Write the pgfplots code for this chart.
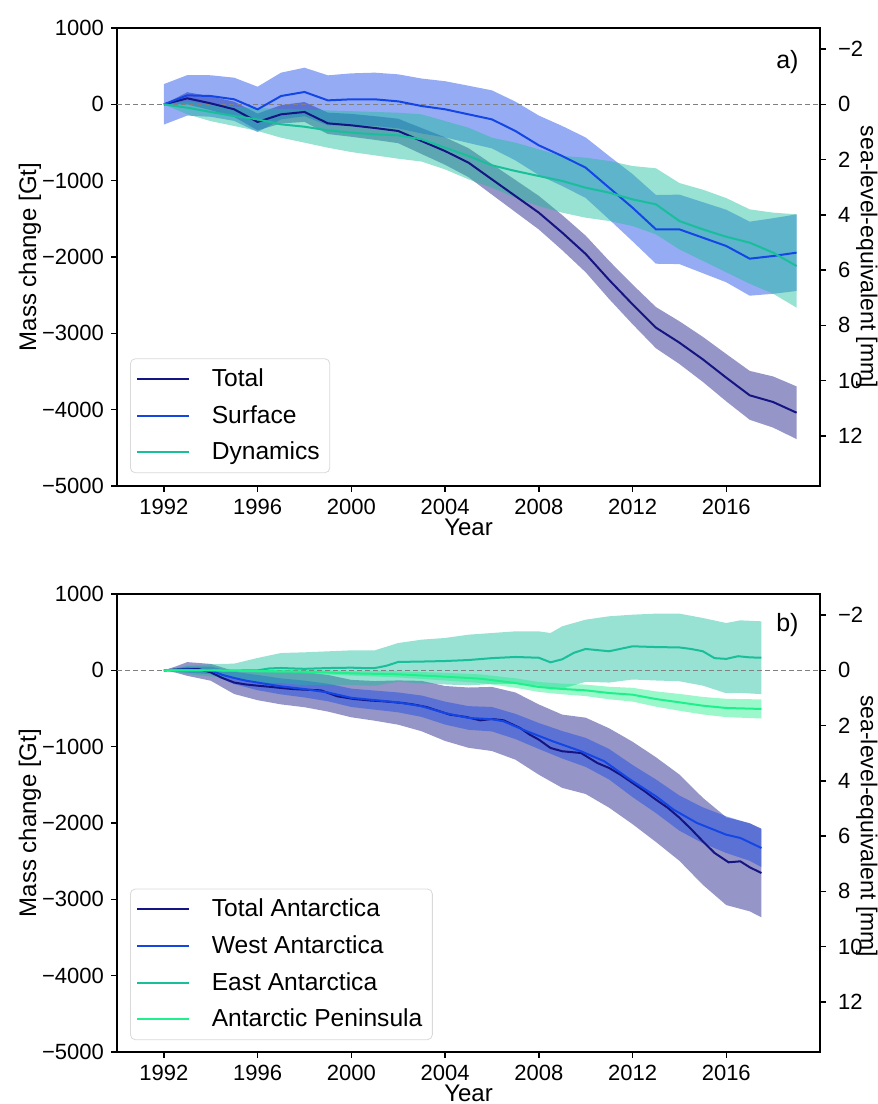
\documentclass[border=0pt]{standalone}
\usepackage{fontspec}
\setmainfont{Liberation Sans}
\usepackage{pgfplots}
\usepackage{pgfplotstable}
\pgfplotsset{compat=1.18}
\usepgfplotslibrary{fillbetween}

\definecolor{cTot}{RGB}{20,20,130}
\definecolor{cSur}{RGB}{20,70,230}
\definecolor{cDyn}{RGB}{25,190,155}
\definecolor{cPen}{RGB}{30,240,140}

% ---------- panel a) ----------
\pgfplotstableread{
yr tot tup tlo sur sup slo dyn dup dlo
1992 0 0 0 0 265 -265 0 0 0
1993 79 159 -1 118 383 -147 -44 40 -131
1994 13 103 -77 109 381 -163 -100 0 -220
1995 -65 35 -165 66 349 -217 -153 -30 -284
1996 -231 -121 -341 -66 231 -363 -197 -50 -349
1997 -131 -11 -251 109 415 -197 -262 -60 -437
1998 -100 30 -230 162 480 -156 -293 -70 -502
1999 -249 -109 -389 52 380 -276 -341 -80 -568
2000 -275 -125 -425 66 406 -274 -371 -90 -625
2001 -310 -155 -465 66 415 -283 -393 -100 -668
2002 -349 -189 -509 39 393 -315 -406 -110 -712
2003 -481 -311 -651 -22 338 -382 -458 -131 -750
2004 -612 -432 -792 -65 303 -433 -567 -219 -852
2005 -764 -574 -954 -131 244 -506 -677 -306 -983
2006 -983 -783 -1183 -197 183 -577 -799 -437 -1092
2007 -1201 -991 -1411 -349 36 -734 -873 -502 -1223
2008 -1419 -1199 -1639 -537 -147 -927 -939 -590 -1332
2009 -1681 -1451 -1911 -677 -284 -1070 -1004 -677 -1419
2010 -1960 -1720 -2200 -830 -434 -1226 -1092 -699 -1485
2011 -2300 -2050 -2550 -1092 -677 -1507 -1157 -742 -1528
2012 -2620 -2360 -2880 -1354 -914 -1794 -1245 -808 -1594
2013 -2926 -2656 -3196 -1638 -1188 -2088 -1310 -838 -1703
2014 -3122 -2842 -3402 -1638 -1183 -2093 -1529 -1031 -1900
2015 -3341 -3046 -3636 -1747 -1282 -2212 -1638 -1118 -2050
2016 -3581 -3271 -3891 -1856 -1381 -2331 -1735 -1228 -2200
2017 -3812 -3492 -4132 -2022 -1537 -2507 -1812 -1376 -2350
2018 -3900 -3565 -4235 -1987 -1492 -2482 -1943 -1419 -2480
2019 -4040 -3695 -4385 -1943 -1441 -2445 -2118 -1441 -2664
}\topdata

% ---------- panel b) ----------
\pgfplotstableread{
yr v
1992.0 0
1992.5 10
1993.0 18
1993.5 15
1994.0 -26
1994.5 -100
1995.0 -160
1995.5 -185
1996.0 -201
1996.5 -215
1997.0 -231
1997.5 -245
1998.0 -253
1998.7 -262
1999.4 -340
2000.1 -375
2000.8 -395
2001.4 -406
2002.2 -428
2002.7 -450
2003.2 -480
2003.7 -530
2004.2 -580
2004.9 -611
2005.5 -655
2006.0 -637
2006.5 -655
2007.2 -755
2007.6 -840
2008.0 -907
2008.5 -1017
2009.0 -1060
2009.8 -1083
2010.5 -1214
2011.0 -1279
2011.5 -1370
2012.0 -1475
2012.5 -1580
2013.0 -1694
2013.5 -1800
2014.0 -1930
2014.5 -2080
2015.0 -2240
2015.5 -2392
2016.1 -2515
2016.6 -2502
2017.0 -2580
2017.5 -2655
}\taline
\pgfplotstableread{
yr up lo
1992 0 0
1992.5 50 -30
1993 108 -72
1994 84 -136
1995 -10 -310
1996 -11 -391
1997 -16 -446
1998 -23 -483
1999 -60 -540
2000 -125 -615
2001 -140 -660
2002 -132 -712
2003 -138 -798
2004 -205 -925
2005 -225 -1015
2006 -217 -1057
2007 -290 -1170
2008 -447 -1367
2009 -580 -1540
2010 -620 -1620
2011 -759 -1799
2012 -935 -2015
2013 -1139 -2249
2014 -1365 -2495
2015 -1670 -2810
2016 -1925 -3075
2017 -2003 -3157
2017.5 -2075 -3235
}\taband
\pgfplotstableread{
yr v
1992 0
1992.5 5
1993 10
1993.5 5
1994 0
1994.5 -60
1995 -100
1995.5 -135
1996 -160
1997 -210
1998 -245
1999 -290
2000 -360
2001 -390
2002 -420
2003 -470
2004 -560
2005 -624
2006 -640
2006.5 -668
2007.5 -799
2008.6 -930
2009.8 -1060
2010.8 -1192
2011.9 -1432
2013 -1650
2013.75 -1825
2014.75 -2000
2016 -2153
2016.6 -2196
2017.5 -2327
}\waline
\pgfplotstableread{
yr up lo
1992 0 0
1993 50 -30
1994 50 -50
1995 -20 -180
1996 -60 -260
1997 -105 -315
1998 -135 -355
1999 -175 -405
2000 -240 -480
2001 -265 -515
2002 -290 -550
2003 -330 -610
2004 -410 -710
2005 -469 -779
2006 -480 -800
2007 -570 -900
2008 -690 -1030
2009 -795 -1155
2010 -885 -1265
2011 -1030 -1430
2012 -1240 -1660
2013 -1430 -1870
2014 -1640 -2100
2015 -1795 -2265
2016 -1913 -2393
2017 -2005 -2495
2017.5 -2077 -2577
}\waband
\pgfplotstableread{
yr v
1992 0
1992.5 5
1993 5
1994 0
1995 -3
1996 0
1996.5 25
1997 31
1997.5 25
1998 20
1999 30
2000 35
2000.5 30
2001 30
2001.5 60
2002 110
2003 115
2004 122
2005 135
2006 160
2007 175
2008 165
2008.5 105
2009 145
2009.5 230
2010 280
2011 250
2012 315
2013 305
2014 300
2014.5 280
2015 250
2015.5 160
2016 150
2016.5 185
2017 170
2017.5 165
}\ealine
\pgfplotstableread{
yr up lo
1992 0 0
1993 60 -50
1994 80 -80
1995 88 -98
1996 162 -162
1997 227 -165
1998 236 -196
1999 249 -189
2000 262 -192
2001 262 -202
2002 358 -150
2003 402 -172
2004 424 -185
2005 467 -197
2006 489 -180
2007 511 -175
2008 511 -200
2008.5 489 -250
2009 577 -240
2010 664 -150
2011 708 -160
2012 729 -120
2013 743 -133
2014 743 -143
2015 686 -200
2016 620 -300
2016.6 655 -295
2017.5 642 -312
}\eaband
\pgfplotstableread{
yr v up lo
1992 0 0 0
1994 0 10 -10
1996 -9 11 -29
1998 -17 8 -42
2000 -39 -9 -69
2002 -52 -12 -92
2004 -83 -33 -133
2005.5 -109 -53 -165
2007 -166 -104 -228
2008 -218 -153 -283
2009 -244 -174 -314
2010 -262 -187 -337
2011 -297 -215 -379
2012 -319 -229 -409
2013 -376 -276 -476
2014 -419 -309 -529
2015 -463 -348 -578
2016 -493 -373 -613
2017.5 -506 -381 -631
}\apdata

\tikzset{rlabel/.style={rotate=-90, anchor=center, inner sep=0pt, font=\fontsize{11.5}{14}\selectfont}}

\pgfplotsset{
  base/.style={
    scale only axis, width=351.5pt, height=229pt, anchor=south west,
    xmin=1990, xmax=2020,
    tick align=outside, major tick length=3pt,
    tick style={black, line width=0.7pt},
    axis line style={black, line width=0.8pt},
    tick label style={font=\fontsize{11}{13}\selectfont},
    label style={font=\fontsize{12}{14}\selectfont},
  },
  mainax/.style={
    base,
    ymin=-5000, ymax=1000,
    xtick={1992,1996,2000,2004,2008,2012,2016},
    xticklabels={1992,1996,2000,2004,2008,2012,2016},
    ytick={-5000,-4000,-3000,-2000,-1000,0,1000},
    yticklabels={−5000,−4000,−3000,−2000,−1000,0,1000},
    xtick pos=left, ytick pos=left,
    xlabel={Year}, ylabel={Mass change [Gt]},
    xlabel style={at={(axis description cs:0.5,-0.090)}, anchor=center},
    ylabel style={at={(axis description cs:-0.124,0.5)}, anchor=center},
    legend cell align=left,
    legend image code/.code={\draw[##1] (0pt,0pt) -- (25.7pt,0pt);},
    legend style={draw=black!15, rounded corners=2.5pt, fill=white,
      font=\fontsize{12.3}{14}\selectfont, inner xsep=3pt, inner ysep=3pt,
      row sep=3.9pt, /tikz/every odd column/.append style={column sep=9pt}},
  },
  rightax/.style={
    base, clip=false,
    ymin=-2.762, ymax=13.812, y dir=reverse,
    hide x axis, axis y line*=right,
    ytick={-2,0,2,4,6,8,10,12},
    yticklabels={−2,0,2,4,6,8,10,12},
    yticklabel style={xshift=2.5pt},
  },
  band/.style={fill=#1, fill opacity=0.45, draw=none, forget plot},
  ln/.style={color=#1, line width=1pt},
  zeroline/.style={forget plot, gray, line width=0.6pt, dash pattern=on 2.5pt off 1.5pt},
}

\begin{document}
\begin{tikzpicture}

% ================= panel a =================
\begin{axis}[mainax, at={(58.5pt,309pt)},
  legend style={at={(0.0185,0.028)}, anchor=south west}]
\addplot[draw=none, name path=tu, forget plot] table[x=yr, y=tup] {\topdata};
\addplot[draw=none, name path=tl, forget plot] table[x=yr, y=tlo] {\topdata};
\addplot[band=cTot] fill between[of=tu and tl];
\addplot[draw=none, name path=su, forget plot] table[x=yr, y=sup] {\topdata};
\addplot[draw=none, name path=sl, forget plot] table[x=yr, y=slo] {\topdata};
\addplot[band=cSur] fill between[of=su and sl];
\addplot[draw=none, name path=du, forget plot] table[x=yr, y=dup] {\topdata};
\addplot[draw=none, name path=dl, forget plot] table[x=yr, y=dlo] {\topdata};
\addplot[band=cDyn] fill between[of=du and dl];
\addplot[zeroline] coordinates {(1990,0) (2020,0)};
\addplot[ln=cTot] table[x=yr, y=tot] {\topdata};
\addlegendentry{Total}
\addplot[ln=cSur] table[x=yr, y=sur] {\topdata};
\addlegendentry{Surface}
\addplot[ln=cDyn] table[x=yr, y=dyn] {\topdata};
\addlegendentry{Dynamics}
\node[anchor=north east, inner sep=0pt, font=\fontsize{12.5}{14}\selectfont] at (rel axis cs:0.970,0.953) {a)};
\end{axis}
\begin{axis}[rightax, at={(58.5pt,309pt)}]
\addplot[draw=none] coordinates {(1990,0) (2020,0)};
\node[rlabel] at (rel axis cs:1.0665,0.5) {sea-level-equivalent [mm]};
\end{axis}

% ================= panel b =================
\begin{axis}[mainax, at={(58.5pt,26pt)},
  legend style={at={(0.0185,0.026)}, anchor=south west}]
\addplot[draw=none, name path=au, forget plot] table[x=yr, y=up] {\taband};
\addplot[draw=none, name path=al, forget plot] table[x=yr, y=lo] {\taband};
\addplot[band=cTot] fill between[of=au and al];
\addplot[draw=none, name path=wu, forget plot] table[x=yr, y=up] {\waband};
\addplot[draw=none, name path=wl, forget plot] table[x=yr, y=lo] {\waband};
\addplot[band=cSur] fill between[of=wu and wl];
\addplot[draw=none, name path=eu, forget plot] table[x=yr, y=up] {\eaband};
\addplot[draw=none, name path=el, forget plot] table[x=yr, y=lo] {\eaband};
\addplot[band=cDyn] fill between[of=eu and el];
\addplot[draw=none, name path=pu, forget plot] table[x=yr, y=up] {\apdata};
\addplot[draw=none, name path=pl, forget plot] table[x=yr, y=lo] {\apdata};
\addplot[band=cPen] fill between[of=pu and pl];
\addplot[zeroline] coordinates {(1990,0) (2020,0)};
\addplot[ln=cTot] table[x=yr, y=v] {\taline};
\addlegendentry{Total Antarctica}
\addplot[ln=cSur] table[x=yr, y=v] {\waline};
\addlegendentry{West Antarctica}
\addplot[ln=cDyn] table[x=yr, y=v] {\ealine};
\addlegendentry{East Antarctica}
\addplot[ln=cPen] table[x=yr, y=v] {\apdata};
\addlegendentry{Antarctic Peninsula}
\node[anchor=north east, inner sep=0pt, font=\fontsize{12.5}{14}\selectfont] at (rel axis cs:0.970,0.958) {b)};
\end{axis}
\begin{axis}[rightax, at={(58.5pt,26pt)}]
\addplot[draw=none] coordinates {(1990,0) (2020,0)};
\node[rlabel] at (rel axis cs:1.0665,0.493) {sea-level-equivalent [mm]};
\end{axis}

\pgfresetboundingbox
\path[use as bounding box] (0,0) rectangle (439pt,552pt);
\end{tikzpicture}
\end{document}
